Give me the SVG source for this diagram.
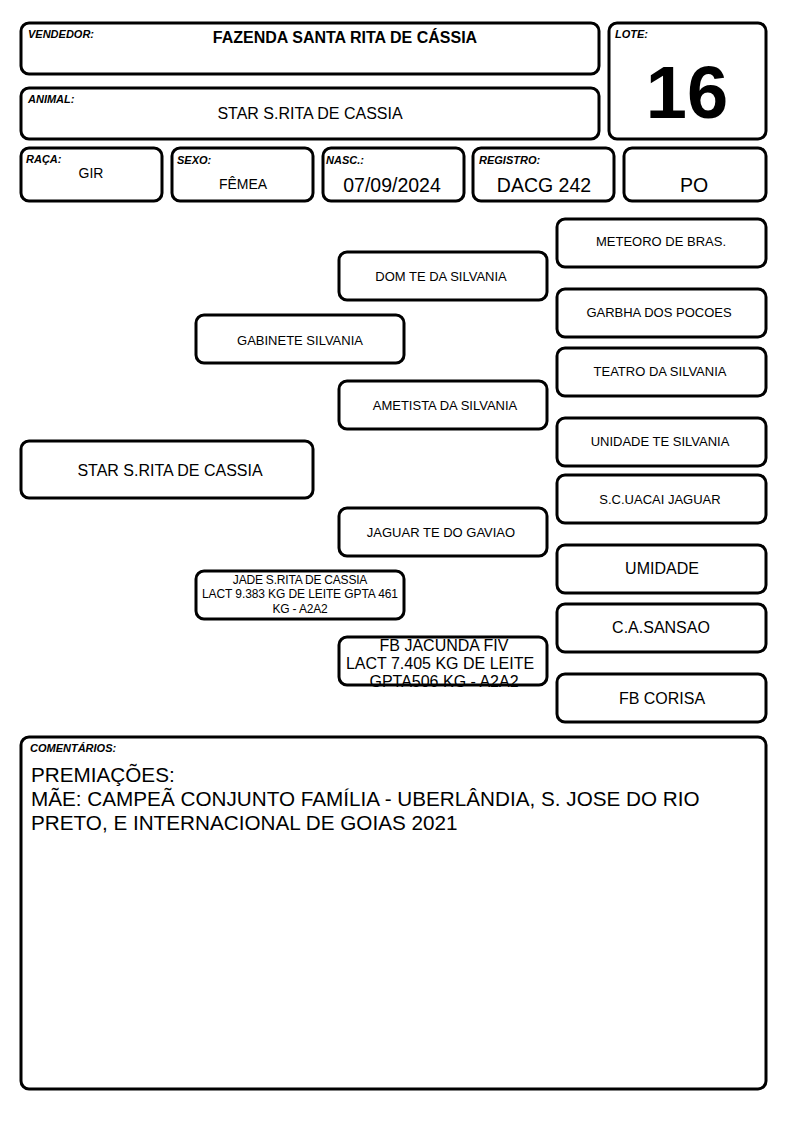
<svg xmlns="http://www.w3.org/2000/svg" width="794" height="1123" viewBox="0 0 794 1123">
<style>
.b{fill:#fff;stroke:#000;stroke-width:3}
.o{fill:none;stroke:#000;stroke-width:3}
text{font-family:"Liberation Sans",Arial,sans-serif;fill:#000}
.l{font-size:11px;font-weight:bold;font-style:italic}
.c{text-anchor:middle}
.p{font-size:13px}
.m{font-size:16px}
.v{font-size:19.5px}
.t{font-size:20.7px}
</style>
<rect width="794" height="1123" fill="#fff"/>
<g id="vendedor">
<rect class="b" x="21" y="23" width="578" height="51" rx="8"/>
<text class="l" x="28" y="38">VENDEDOR:</text>
<text class="c" x="345" y="43" font-size="16" font-weight="bold">FAZENDA SANTA RITA DE CÁSSIA</text>
</g>
<g id="animal">
<rect class="b" x="21" y="88" width="578" height="51" rx="8"/>
<text class="l" x="28" y="103">ANIMAL:</text>
<text class="c m" x="310" y="119">STAR S.RITA DE CASSIA</text>
</g>
<g id="lote">
<rect class="b" x="609" y="23" width="157" height="116" rx="8"/>
<text class="l" x="615" y="38">LOTE:</text>
<text class="c" x="687" y="118" font-size="74" font-weight="bold">16</text>
</g>
<g id="raca">
<rect class="b" x="21" y="148" width="141" height="53" rx="8"/>
<text class="l" x="26" y="163">RAÇA:</text>
<text class="c" x="91" y="178" font-size="14">GIR</text>
</g>
<g id="sexo">
<rect class="b" x="172" y="148" width="141" height="53" rx="8"/>
<text class="l" x="177" y="164">SEXO:</text>
<text class="c" x="243" y="189" font-size="14">FÊMEA</text>
</g>
<g id="nasc">
<rect class="b" x="323" y="148" width="141" height="53" rx="8"/>
<text class="l" x="326" y="164">NASC.:</text>
<text class="c v" x="392" y="192">07/09/2024</text>
</g>
<g id="registro">
<rect class="b" x="473" y="148" width="141" height="53" rx="8"/>
<text class="l" x="479" y="164">REGISTRO:</text>
<text class="c v" x="544" y="192">DACG 242</text>
</g>
<g id="categoria">
<rect class="b" x="624" y="148" width="142" height="53" rx="8"/>
<text class="c v" x="694" y="192">PO</text>
</g>
<g id="connectors"></g>
<g id="meteoro">
<rect class="b" x="557" y="219" width="209" height="48" rx="8"/>
<text class="c p" x="661" y="246">METEORO DE BRAS.</text>
</g>
<g id="dom">
<rect class="b" x="339" y="252" width="208" height="48" rx="8"/>
<text class="c p" x="441" y="281">DOM TE DA SILVANIA</text>
</g>
<g id="garbha">
<rect class="b" x="557" y="289" width="209" height="48" rx="8"/>
<text class="c p" x="659" y="317">GARBHA DOS POCOES</text>
</g>
<g id="gabinete">
<rect class="b" x="196" y="315" width="208" height="48" rx="8"/>
<text class="c p" x="300" y="345">GABINETE SILVANIA</text>
</g>
<g id="teatro">
<rect class="b" x="557" y="348" width="209" height="48" rx="8"/>
<text class="c p" x="660" y="376">TEATRO DA SILVANIA</text>
</g>
<g id="ametista">
<rect class="b" x="339" y="381" width="208" height="48" rx="8"/>
<text class="c p" x="445" y="410">AMETISTA DA SILVANIA</text>
</g>
<g id="unidade">
<rect class="b" x="557" y="418" width="209" height="48" rx="8"/>
<text class="c p" x="660" y="446">UNIDADE TE SILVANIA</text>
</g>
<g id="star">
<rect class="b" x="21" y="441" width="292" height="57" rx="8"/>
<text class="c m" x="170" y="476">STAR S.RITA DE CASSIA</text>
</g>
<g id="uacai">
<rect class="b" x="557" y="475" width="209" height="48" rx="8"/>
<text class="c p" x="660" y="504">S.C.UACAI JAGUAR</text>
</g>
<g id="jaguar">
<rect class="b" x="339" y="508" width="208" height="48" rx="8"/>
<text class="c p" x="441" y="537">JAGUAR TE DO GAVIAO</text>
</g>
<g id="umidade">
<rect class="b" x="557" y="545" width="209" height="48" rx="8"/>
<text class="c m" x="662" y="574">UMIDADE</text>
</g>
<g id="jade">
<rect class="b" x="196" y="571" width="208" height="48" rx="8"/>
<text class="c" x="300" y="584" font-size="12" letter-spacing="-0.2">JADE S.RITA DE CASSIA</text>
<text class="c" x="300" y="598" font-size="12" letter-spacing="-0.1">LACT 9.383 KG DE LEITE  GPTA 461</text>
<text class="c" x="300" y="613" font-size="12" letter-spacing="-0.2">KG - A2A2</text>
</g>
<g id="sansao">
<rect class="b" x="557" y="604" width="209" height="48" rx="8"/>
<text class="c m" x="661" y="633">C.A.SANSAO</text>
</g>
<g id="jacunda">
<rect x="339" y="637" width="208" height="48" rx="8" fill="#fff"/>
<text class="c m" x="444" y="651">FB JACUNDA FIV</text>
<text class="c m" x="440" y="669">LACT 7.405 KG DE LEITE</text>
<text class="c m" x="444" y="687">GPTA506 KG - A2A2</text>
<rect class="o" x="339" y="637" width="208" height="48" rx="8"/>
</g>
<g id="corisa">
<rect class="b" x="557" y="674" width="209" height="48" rx="8"/>
<text class="c m" x="662" y="704">FB CORISA</text>
</g>
<g id="comentarios">
<rect class="b" x="21" y="737" width="745" height="352" rx="8"/>
<text class="l" x="30" y="752">COMENTÁRIOS:</text>
<text class="t" x="31" y="782">PREMIAÇÕES:</text>
<text class="t" x="31" y="806">MÃE: CAMPEÃ CONJUNTO FAMÍLIA - UBERLÂNDIA, S. JOSE DO RIO</text>
<text class="t" x="31" y="830">PRETO, E INTERNACIONAL DE GOIAS 2021</text>
</g>
</svg>
